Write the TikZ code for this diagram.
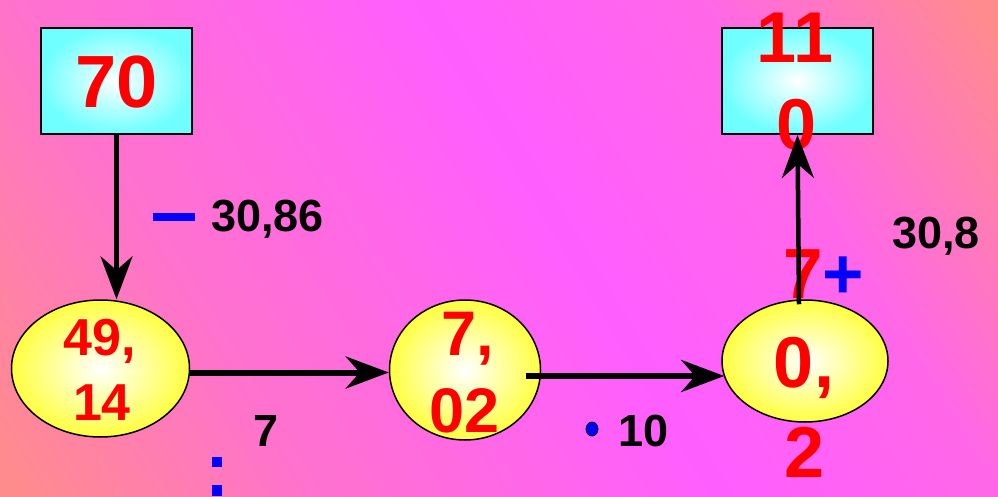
\documentclass[tikz,border=0pt]{standalone}
\usepackage{fontspec}
\setmainfont{Liberation Sans}
\usetikzlibrary{shapes.geometric,arrows.meta,calc}
\definecolor{sal}{HTML}{FF8C8C}
\definecolor{mag}{HTML}{FF5EFF}
\colorlet{midA}{mag!55!sal}
\colorlet{midB}{mag!80!sal}
\definecolor{cyanbox}{HTML}{70FFFF}
\definecolor{yel}{HTML}{FFFF40}
\definecolor{redA}{HTML}{FF0000}
\definecolor{blueA}{HTML}{0000FF}
\begin{document}
\begin{tikzpicture}[x=1pt,y=-1pt,
  box/.style={rectangle, draw=black, line width=2pt, minimum width=151pt, minimum height=106pt, inner sep=0pt, inner color=white, outer color=cyanbox},
  oval/.style={ellipse, draw=black, line width=1.5pt, inner sep=0pt, inner color=white, outer color=yel},
  num/.style={font=\bfseries\fontsize{#1}{#1}\selectfont, text=redA, inner sep=0pt, anchor=base},
  lab/.style={font=\bfseries\fontsize{45}{45}\selectfont, text=black, inner sep=0pt, anchor=base west},
  arr/.style={draw=black, -{Stealth[length=43pt,width=32pt,inset=14pt]}},
  bluemark/.style={fill=blueA}
]
\useasboundingbox (0,0) rectangle (998,497);
% background gradient
\begin{scope}
  \clip (0,0) rectangle (998,497);
  \begin{scope}[transform canvas={shift={(570,248)},rotate=31}]
    \fill[sal] (-1200,-1200) rectangle (1200,1200);
    \shade[left color=sal, right color=midA] (-600,-1200) rectangle (-359,1200);
    \shade[left color=midA, right color=mag] (-360,-1200) rectangle (1,1200);
    \shade[left color=mag, right color=midB] (0,-1200) rectangle (241,1200);
    \shade[left color=midB, right color=sal] (240,-1200) rectangle (480,1200);
  \end{scope}
\end{scope}

% boxes
\node[box] (b1) at (116.5,81) {};
\node[box] (b2) at (797.5,81) {};
\node[num=74] (t70) at (116.5,108) {70};
\node[num=72] (t11) at (795,63) {11};
\node[num=72] (t0) at (797,150) {0};

% 7+
\node[font=\bfseries\fontsize{71}{71}\selectfont, inner sep=0pt, anchor=base west] (tplus) at (783,298) {\textcolor{redA}{7}\textcolor{blueA}{+}};

% ellipses
\node[oval, minimum width=178pt, minimum height=137pt] (e1) at (100.5,368.5) {};
\node[oval, minimum width=151pt, minimum height=140pt] (e2) at (465,370) {};
\node[oval, minimum width=166pt, minimum height=122pt] (e3) at (805,361) {};

\node[num=52] (t49) at (100,355) {49,};
\node[num=52] (t14) at (102,420) {14};
\node[num=63] (t7c) at (468,355) {7,};
\node[num=63] (t02) at (465,432) {02};
\node[num=72] (t0c) at (804,387) {0,};
\node[num=72] (t2) at (804.5,477) {2};

% labels
\node[lab] (l1) at (211,231) {30,86};
\node[lab] (l2) at (892,248) {30,8};
\node[lab] (l3) at (253,446) {7};
\node[lab] (l4) at (618,446) {10};

% blue marks
\fill[bluemark] (153,213) rectangle (195,221);
\fill[bluemark] (212,457) rectangle (222,467);
\fill[bluemark] (212,485) rectangle (222,496);
\node[ellipse, draw=black, line width=0.8pt, fill=blueA, minimum width=12pt, minimum height=14pt, inner sep=0pt] (dot) at (592,429) {};

% arrows
\draw[arr, line width=4.5pt] (b1.south) -- (b1.south |- e1.north);
\draw[arr, line width=6pt] ([yshift=-4pt]e1.east) -- ([yshift=-4pt]e1.east -| e2.west);
\draw[arr, line width=6pt] ($(e2.east)+(-15,6)$) -- ($(e3.west)+(3,15)$);
\draw[arr, line width=4.5pt] ($(e3.north)+(-6,5)$) -- (b2.south);
\end{tikzpicture}
\end{document}
